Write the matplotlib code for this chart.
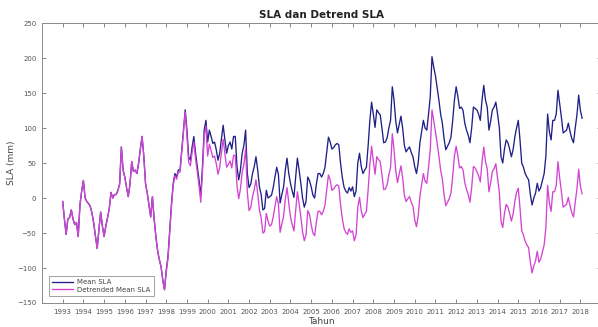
import numpy as np
import matplotlib
matplotlib.use('Agg')
import matplotlib.pyplot as plt

# monthly SLA (mm), Jan 1993 - Feb 2018
start_year = 1993
mean_sla = [
    -5, -30, -52, -30, -28, -17, -30, -38, -35, -55, -10, 10,      # 1993
    25, 0, -5, -8, -12, -22, -36, -55, -72, -45, -20, -40,         # 1994
    -55, -40, -28, -15, 8, 0, 5, 5, 11, 20, 73, 40,                # 1995
    30, 15, 2, 20, 52, 38, 40, 35, 50, 70, 88, 60,                 # 1996
    21, 7, -10, -27, 2, -30, -55, -75, -88, -98, -117, -131,       # 1997
    -103, -84, -46, -10, 20, 35, 30, 40, 40, 69, 97, 126,          # 1998
    97, 59, 54, 73, 88, 64, 45, 26, 2, 45, 97, 111,                # 1999
    80, 97, 88, 78, 80, 69, 54, 64, 85, 104, 83, 64,               # 2000
    75, 80, 70, 88, 88, 45, 26, 40, 64, 75, 97, 35,                # 2001
    15, 20, 35, 45, 59, 40, 16, 5, -17, -15, 11, 0,                # 2002
    2, 4, 15, 30, 44, 34, -7, 5, 16, 40, 57, 35,                   # 2003
    21, 10, 1, 30, 57, 40, 21, 0, -13, -5, 30, 25,                 # 2004
    16, 4, 0, 20, 35, 35, 30, 35, 44, 65, 87, 80,                  # 2005
    70, 72, 76, 78, 76, 50, 30, 16, 10, 7, 15, 10,                 # 2006
    16, 2, 10, 50, 64, 45, 35, 40, 44, 75, 111, 137,               # 2007
    120, 101, 126, 122, 119, 100, 79, 80, 86, 100, 111, 159,       # 2008
    140, 110, 93, 105, 117, 100, 75, 66, 70, 73, 65, 59,           # 2009
    45, 35, 50, 79, 95, 111, 100, 97, 120, 145, 202, 187,          # 2010
    175, 158, 140, 120, 107, 85, 69, 74, 79, 87, 111, 140,         # 2011
    159, 145, 128, 130, 125, 107, 97, 90, 79, 100, 130, 128,       # 2012
    126, 120, 111, 140, 161, 140, 130, 97, 110, 126, 130, 137,     # 2013
    120, 101, 59, 50, 70, 83, 79, 70, 59, 69, 87, 100,             # 2014
    111, 83, 50, 44, 35, 30, 26, 5, -10, 0, 7, 21,                 # 2015
    10, 15, 25, 35, 60, 120, 95, 83, 111, 111, 120, 154,           # 2016
    135, 115, 93, 95, 97, 107, 95, 85, 79, 100, 119, 147,          # 2017
    125, 114,                                                      # 2018
]
detrended_sla = [
    -5, -30, -52, -30, -28, -17, -30, -38, -35, -55, -10, 10,      # 1993
    25, 0, -5, -8, -12, -22, -36, -55, -72, -45, -20, -40,         # 1994
    -55, -40, -28, -15, 8, 0, 5, 5, 11, 20, 73, 40,                # 1995
    30, 15, 2, 20, 52, 38, 40, 35, 50, 70, 88, 60,                 # 1996
    21, 7, -10, -27, 2, -30, -55, -75, -88, -98, -117, -131,       # 1997
    -106, -87, -49, -13, 17, 32, 27, 37, 37, 66, 94, 123,          # 1998
    89, 51, 46, 65, 80, 56, 37, 18, -6, 37, 89, 103,               # 1999
    60, 77, 68, 58, 60, 49, 34, 44, 65, 84, 63, 44,                # 2000
    48, 53, 43, 61, 61, 18, -1, 13, 37, 48, 70, 8,                 # 2001
    -18, -13, 2, 12, 26, 7, -17, -28, -50, -48, -22, -33,          # 2002
    -40, -38, -27, -12, 2, -8, -49, -37, -26, -2, 15, -7,          # 2003
    -27, -38, -47, -18, 9, -8, -27, -48, -61, -53, -18, -23,       # 2004
    -38, -50, -54, -34, -19, -19, -24, -19, -10, 11, 33, 26,       # 2005
    11, 13, 17, 19, 17, -9, -29, -43, -49, -52, -44, -49,          # 2006
    -47, -61, -53, -13, 1, -18, -28, -23, -19, 12, 48, 74,         # 2007
    53, 34, 59, 55, 52, 33, 12, 13, 19, 33, 44, 92,                # 2008
    69, 39, 22, 34, 46, 29, 4, -5, -1, 2, -6, -12,                 # 2009
    -31, -41, -26, 3, 19, 35, 24, 21, 44, 69, 126, 111,            # 2010
    95, 78, 60, 40, 27, 5, -11, -6, -1, 7, 31, 60,                 # 2011
    74, 60, 43, 45, 40, 22, 12, 5, -6, 15, 45, 43,                 # 2012
    38, 32, 23, 52, 73, 52, 42, 9, 22, 38, 42, 49,                 # 2013
    28, 9, -33, -42, -22, -9, -13, -22, -33, -23, -5, 8,           # 2014
    14, -14, -47, -53, -62, -67, -71, -92, -107, -97, -90, -76,    # 2015
    -92, -87, -77, -67, -42, 18, -7, -19, 9, 9, 18, 52,            # 2016
    29, 9, -13, -11, -9, 1, -11, -21, -27, -6, 13, 41,             # 2017
    17, 6,                                                         # 2018
]
years = list(range(1993, 2019))

t = start_year + np.arange(len(mean_sla)) / 12.0

fig = plt.figure(figsize=(5.98, 3.27), dpi=100)
ax = fig.add_axes([0.0702, 0.0734, 0.935, 0.856])

ax.plot(t, mean_sla, color='#202088', lw=0.95, label='Mean SLA')
ax.plot(t, detrended_sla, color='#d444d4', lw=0.95, label='Detrended Mean SLA')

ax.set_xlim(1992, 2019)
ax.set_ylim(-150, 250)
ax.set_xticks(years)
ax.set_xticklabels([str(y) for y in years])
ax.set_yticks(np.arange(-150, 251, 50))

for s in ax.spines.values():
    s.set_color('#8a8a8a')
    s.set_linewidth(0.7)
ax.tick_params(direction='in', length=3, width=0.6, color='#777777',
               labelsize=5, labelcolor='#555555', top=True, right=True, pad=4)

ax.set_title('SLA dan Detrend SLA', fontsize=7.5, fontweight='bold', color='#222222', pad=4)
ax.set_xlabel('Tahun', fontsize=6.5, color='#444444', labelpad=2)
ax.set_ylabel('SLA (mm)', fontsize=6.5, color='#444444', labelpad=1)

leg = ax.legend(loc='lower left', fontsize=5, frameon=True, fancybox=False,
                borderaxespad=0, handlelength=3.0, labelspacing=0.25,
                borderpad=0.45, handletextpad=0.6,
                bbox_to_anchor=(7 / 559, 7 / 280))
leg.get_frame().set_edgecolor('#777777')
leg.get_frame().set_linewidth(0.6)
for txt in leg.get_texts():
    txt.set_color('#444444')

fig.savefig('out.png', dpi=100)
